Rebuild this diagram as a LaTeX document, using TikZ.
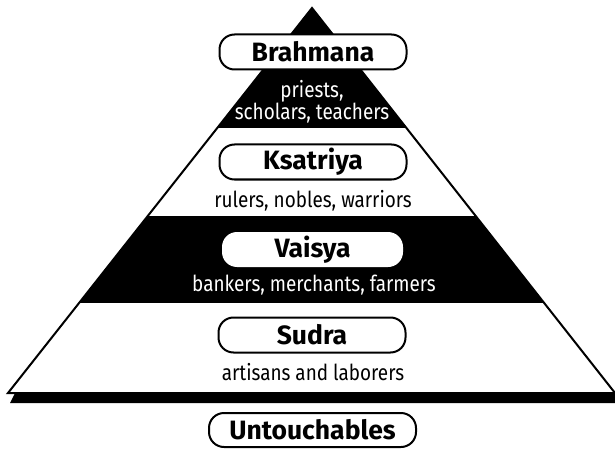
\documentclass[tikz,border=0pt]{standalone}
\usepackage{fontspec}
\setmainfont{Fira Sans}
\newfontfamily\condfont[FakeStretch=0.86]{Fira Sans}
\begin{document}
\begin{tikzpicture}[x=1pt,y=-1pt,
  castebox/.style={draw=black, line width=2pt, fill=white, rounded corners=15pt,
    minimum width=187pt, minimum height=35pt, inner sep=0pt,
    font=\fontsize{26.5}{26.5}\selectfont\bfseries},
  desc/.style={font=\condfont\fontsize{22}{20}\selectfont, align=center, inner sep=0pt},
  edge/.style={line width=2pt, line join=miter}]
\useasboundingbox (0,0) rectangle (615,449);
% shadow band under the base
\fill (15,393) -- (622,393) -- (622,403) -- (10,403) -- cycle;
% pyramid
\coordinate (apex) at (312,8);
\coordinate (bl) at (8,393);
\coordinate (br) at (615,393);
\fill[white] (apex) -- (bl) -- (br) -- cycle;
\begin{scope}
  \clip (apex) -- (bl) -- (br) -- cycle;
  \fill (0,0) rectangle (630,128);
  \fill (0,216) rectangle (630,303);
\end{scope}
\draw[edge] (apex) -- (bl) -- (br) -- cycle;
% labels
\node[castebox] (brahmana) at (313,52) {Brahmana};
\node[desc, text=white] (brahmanadesc) at (312,102) {priests,\\scholars, teachers};
\node[castebox] (ksatriya) at (313,162) {Ksatriya};
\node[desc] (ksatriyadesc) at (313,201) {rulers, nobles, warriors};
\node[castebox, draw=none, minimum width=181pt] (vaisya) at (312.5,249.5) {Vaisya};
\node[desc, text=white] (vaisyadesc) at (314,285) {bankers, merchants, farmers};
\node[castebox] (sudra) at (312,335) {Sudra};
\node[desc] (sudradesc) at (313,372) {artisans and laborers};
\node[castebox, minimum width=207pt, minimum height=34pt] (untouch) at (312.5,430) {Untouchables};
\end{tikzpicture}
\end{document}
